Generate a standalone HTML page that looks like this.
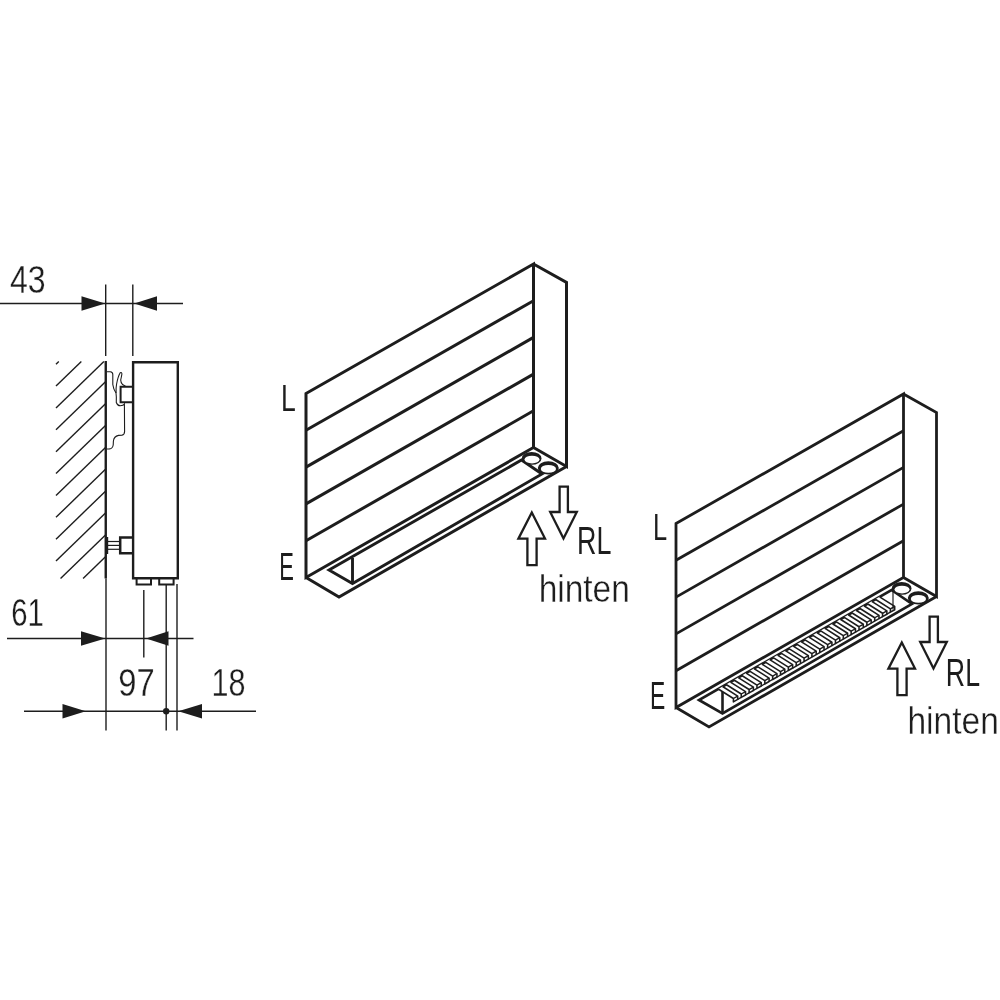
<!DOCTYPE html>
<html lang="de">
<head>
<meta charset="utf-8">
<title>Heizkörper Maßzeichnung</title>
<style>
html,body{margin:0;padding:0;background:#fff;}
body{width:1000px;height:1000px;overflow:hidden;}
svg{display:block;will-change:transform;filter:grayscale(1);}
svg text{font-family:"Liberation Sans",sans-serif;}
</style>
</head>
<body>
<svg width="1000" height="1000" viewBox="0 0 1000 1000" stroke="#1d1d1b" fill="none" stroke-linecap="butt" stroke-linejoin="miter">
<rect x="0" y="0" width="1000" height="1000" fill="#fff" stroke="none"/>
<g id="left">
<line x1="56.00" y1="364.20" x2="58.79" y2="361.50" stroke-width="1.4" />
<line x1="56.00" y1="386.07" x2="81.34" y2="361.50" stroke-width="1.4" />
<line x1="56.00" y1="407.94" x2="103.89" y2="361.50" stroke-width="1.4" />
<line x1="56.00" y1="429.81" x2="105.75" y2="381.57" stroke-width="1.4" />
<line x1="56.00" y1="451.68" x2="105.75" y2="403.44" stroke-width="1.4" />
<line x1="56.00" y1="473.55" x2="105.75" y2="425.31" stroke-width="1.4" />
<line x1="56.00" y1="495.42" x2="105.75" y2="447.18" stroke-width="1.4" />
<line x1="56.00" y1="517.29" x2="105.75" y2="469.05" stroke-width="1.4" />
<line x1="56.00" y1="539.16" x2="105.75" y2="490.92" stroke-width="1.4" />
<line x1="56.00" y1="561.03" x2="105.75" y2="512.79" stroke-width="1.4" />
<line x1="60.54" y1="578.50" x2="105.75" y2="534.66" stroke-width="1.4" />
<line x1="83.09" y1="578.50" x2="105.75" y2="556.53" stroke-width="1.4" />
<line x1="0.00" y1="303.50" x2="183.00" y2="303.50" stroke-width="1.4" />
<path d="M105.20,303.50 L81.50,296.30 L81.50,310.70 Z" fill="#1d1d1b" stroke="none"/>
<path d="M134.20,303.50 L157.00,296.30 L157.00,310.70 Z" fill="#1d1d1b" stroke="none"/>
<line x1="105.70" y1="284.50" x2="105.70" y2="356.00" stroke-width="1.4" />
<line x1="132.80" y1="284.50" x2="132.80" y2="356.00" stroke-width="1.4" />
<line x1="105.75" y1="361.00" x2="105.75" y2="578.50" stroke-width="2.4" />
<path d="M133.10,362.20 L177.80,362.20 L177.80,578.20 L133.10,578.20 Z" stroke-width="2.4" fill="none" />
<path d="M136.60,578.20 L136.60,584.40 L151.00,584.40 L151.00,578.20" stroke-width="2.0" fill="none" />
<path d="M159.20,578.20 L159.20,584.40 L173.60,584.40 L173.60,578.20" stroke-width="2.0" fill="none" />
<path d="M133.00,386.80 L120.60,386.80 L120.60,402.20 L133.00,402.20" stroke-width="2.0" fill="none" />
<path d="M107,371.7 L110.3,371.7 Q112.8,371.9 112.8,374.5 L112.8,384.5 Q113.2,388.5 116,393 Q116.6,397 116.3,402.5 Q117.5,405.8 120.2,405.8 Q123.5,405.6 124.4,404 L124.6,431.5 Q124.6,434.6 122,435.1 L118.5,435.4 Q114,436.5 113.4,441 L113.2,445 Q112.6,448.6 109.5,448.9 L107,449" stroke-width="1.1" fill="none"/>
<path d="M116.1,393 Q115.8,388 116.6,384 Q118,376.5 120.2,372.8 Q121.8,371.8 121.9,374 Q121.4,377 120.7,380 Q120.8,383 122.6,384.6 L125.5,386.2" stroke-width="1.1" fill="none"/>
<line x1="107.10" y1="537.00" x2="107.10" y2="554.00" stroke-width="2.2" />
<line x1="107.50" y1="541.50" x2="119.50" y2="541.50" stroke-width="1.2" />
<line x1="107.50" y1="545.40" x2="119.50" y2="545.40" stroke-width="1.2" />
<line x1="107.50" y1="549.30" x2="119.50" y2="549.30" stroke-width="1.2" />
<path d="M133.00,537.50 L120.20,537.50 L120.20,553.20 L133.00,553.20" stroke-width="2.5" fill="none" />
<line x1="106.00" y1="578.50" x2="106.00" y2="730.50" stroke-width="1.4" />
<line x1="143.80" y1="590.00" x2="143.80" y2="657.50" stroke-width="1.4" />
<line x1="166.20" y1="585.00" x2="166.20" y2="730.50" stroke-width="1.4" />
<line x1="177.00" y1="584.00" x2="177.00" y2="730.50" stroke-width="1.4" />
<line x1="7.00" y1="638.50" x2="193.50" y2="638.50" stroke-width="1.4" />
<path d="M105.30,638.50 L81.00,631.30 L81.00,645.70 Z" fill="#1d1d1b" stroke="none"/>
<path d="M146.00,638.50 L168.50,631.30 L168.50,645.70 Z" fill="#1d1d1b" stroke="none"/>
<line x1="24.00" y1="711.30" x2="256.00" y2="711.30" stroke-width="1.4" />
<path d="M85.80,711.30 L62.50,704.10 L62.50,718.50 Z" fill="#1d1d1b" stroke="none"/>
<path d="M178.30,711.30 L202.00,704.10 L202.00,718.50 Z" fill="#1d1d1b" stroke="none"/>
<circle cx="166.2" cy="711.3" r="3.2" fill="#1d1d1b" stroke="none"/>
</g>
<g transform="translate(0,0)">
<path d="M306.00,393.50 L533.50,264.00 L533.50,447.50 L306.00,577.50 Z" stroke-width="3.0" fill="none" />
<line x1="306.00" y1="430.30" x2="533.50" y2="300.70" stroke-width="3.0" />
<line x1="306.00" y1="467.10" x2="533.50" y2="337.40" stroke-width="3.0" />
<line x1="306.00" y1="503.90" x2="533.50" y2="374.10" stroke-width="3.0" />
<line x1="306.00" y1="540.70" x2="533.50" y2="410.80" stroke-width="3.0" />
<path d="M533.50,264.00 L566.50,282.50 L566.50,466.50 L533.50,447.50" stroke-width="3.0" fill="none" />
<path d="M306.00,577.50 L339.00,597.00 L566.50,466.50" stroke-width="3.0" fill="none" />
<path d="M329.00,570.00 L352.50,583.50 L542.00,474.00 L521.50,460.00 Z" stroke-width="2.9" fill="none" />
<line x1="352.50" y1="558.00" x2="352.50" y2="583.50" stroke-width="2.9" />
<ellipse cx="531.65" cy="458.4" rx="9.85" ry="6.4" stroke="none" fill="#1d1d1b"/>
<ellipse cx="532" cy="459.55" rx="7.5" ry="3.85" stroke="none" fill="#fff"/>
<ellipse cx="548.3" cy="467.9" rx="10.5" ry="6.6" stroke="none" fill="#1d1d1b"/>
<ellipse cx="548.4" cy="468.9" rx="7.6" ry="3.95" stroke="none" fill="#fff"/>
<path d="M559.60,486.60 L567.90,486.60 L567.90,512.00 L576.80,512.00 L563.50,538.50 L550.20,512.00 L559.60,512.00 Z" stroke-width="2.3" fill="none" />
<path d="M531.80,512.50 L545.00,538.60 L536.60,538.60 L536.60,565.10 L527.40,565.10 L527.40,538.60 L518.40,538.60 Z" stroke-width="2.3" fill="none" />
</g>
<g transform="translate(370,130)">
<path d="M306.00,393.50 L533.50,264.00 L533.50,447.50 L306.00,577.50 Z" stroke-width="2.8" fill="none" />
<line x1="306.00" y1="430.30" x2="533.50" y2="300.70" stroke-width="2.8" />
<line x1="306.00" y1="467.10" x2="533.50" y2="337.40" stroke-width="2.8" />
<line x1="306.00" y1="503.90" x2="533.50" y2="374.10" stroke-width="2.8" />
<line x1="306.00" y1="540.70" x2="533.50" y2="410.80" stroke-width="2.8" />
<path d="M533.50,264.00 L566.50,282.50 L566.50,466.50 L533.50,447.50" stroke-width="2.8" fill="none" />
<path d="M306.00,577.50 L339.00,597.00 L566.50,466.50" stroke-width="2.8" fill="none" />
<path d="M329.00,570.00 L352.50,583.50 L542.00,474.00 L521.50,460.00 Z" stroke-width="2.6" fill="none" />
<line x1="352.50" y1="558.00" x2="352.50" y2="583.50" stroke-width="2.6" />
<path d="M348.29,558.98 L352.59,556.52 L367.70,566.04 L367.70,569.44 L363.40,571.90 L363.40,568.50 Z" stroke-width="0" fill="#fff" stroke="none"/>
<path d="M348.29,558.98 L363.40,568.50 L363.40,571.90 L367.70,569.44 L367.70,566.04 L352.59,556.52" stroke-width="1.55" fill="none" stroke-linejoin="round"/>
<path d="M363.40,568.50 L367.70,566.04" stroke-width="1.395" fill="none" />
<path d="M367.70,569.44 L371.25,567.41" stroke-width="1.395" fill="none" />
<path d="M356.14,554.49 L360.44,552.04 L375.55,561.56 L375.55,564.96 L371.25,567.41 L371.25,564.01 Z" stroke-width="0" fill="#fff" stroke="none"/>
<path d="M356.14,554.49 L371.25,564.01 L371.25,567.41 L375.55,564.96 L375.55,561.56 L360.44,552.04" stroke-width="1.55" fill="none" stroke-linejoin="round"/>
<path d="M371.25,564.01 L375.55,561.56" stroke-width="1.395" fill="none" />
<path d="M375.55,564.96 L379.10,562.93" stroke-width="1.395" fill="none" />
<path d="M363.99,550.01 L368.29,547.55 L383.40,557.07 L383.40,560.47 L379.10,562.93 L379.10,559.53 Z" stroke-width="0" fill="#fff" stroke="none"/>
<path d="M363.99,550.01 L379.10,559.53 L379.10,562.93 L383.40,560.47 L383.40,557.07 L368.29,547.55" stroke-width="1.55" fill="none" stroke-linejoin="round"/>
<path d="M379.10,559.53 L383.40,557.07" stroke-width="1.395" fill="none" />
<path d="M383.40,560.47 L386.95,558.44" stroke-width="1.395" fill="none" />
<path d="M371.84,545.52 L376.14,543.07 L391.25,552.59 L391.25,555.99 L386.95,558.44 L386.95,555.04 Z" stroke-width="0" fill="#fff" stroke="none"/>
<path d="M371.84,545.52 L386.95,555.04 L386.95,558.44 L391.25,555.99 L391.25,552.59 L376.14,543.07" stroke-width="1.55" fill="none" stroke-linejoin="round"/>
<path d="M386.95,555.04 L391.25,552.59" stroke-width="1.395" fill="none" />
<path d="M391.25,555.99 L394.80,553.96" stroke-width="1.395" fill="none" />
<path d="M379.69,541.04 L383.99,538.58 L399.10,548.10 L399.10,551.50 L394.80,553.96 L394.80,550.56 Z" stroke-width="0" fill="#fff" stroke="none"/>
<path d="M379.69,541.04 L394.80,550.56 L394.80,553.96 L399.10,551.50 L399.10,548.10 L383.99,538.58" stroke-width="1.55" fill="none" stroke-linejoin="round"/>
<path d="M394.80,550.56 L399.10,548.10" stroke-width="1.395" fill="none" />
<path d="M399.10,551.50 L402.65,549.47" stroke-width="1.395" fill="none" />
<path d="M387.54,536.55 L391.84,534.09 L406.95,543.62 L406.95,547.02 L402.65,549.47 L402.65,546.07 Z" stroke-width="0" fill="#fff" stroke="none"/>
<path d="M387.54,536.55 L402.65,546.07 L402.65,549.47 L406.95,547.02 L406.95,543.62 L391.84,534.09" stroke-width="1.55" fill="none" stroke-linejoin="round"/>
<path d="M402.65,546.07 L406.95,543.62" stroke-width="1.395" fill="none" />
<path d="M406.95,547.02 L410.50,544.99" stroke-width="1.395" fill="none" />
<path d="M395.39,532.07 L399.69,529.61 L414.80,539.13 L414.80,542.53 L410.50,544.99 L410.50,541.59 Z" stroke-width="0" fill="#fff" stroke="none"/>
<path d="M395.39,532.07 L410.50,541.59 L410.50,544.99 L414.80,542.53 L414.80,539.13 L399.69,529.61" stroke-width="1.55" fill="none" stroke-linejoin="round"/>
<path d="M410.50,541.59 L414.80,539.13" stroke-width="1.395" fill="none" />
<path d="M414.80,542.53 L418.35,540.50" stroke-width="1.395" fill="none" />
<path d="M403.24,527.58 L407.54,525.12 L422.65,534.64 L422.65,538.04 L418.35,540.50 L418.35,537.10 Z" stroke-width="0" fill="#fff" stroke="none"/>
<path d="M403.24,527.58 L418.35,537.10 L418.35,540.50 L422.65,538.04 L422.65,534.64 L407.54,525.12" stroke-width="1.55" fill="none" stroke-linejoin="round"/>
<path d="M418.35,537.10 L422.65,534.64" stroke-width="1.395" fill="none" />
<path d="M422.65,538.04 L426.20,536.02" stroke-width="1.395" fill="none" />
<path d="M411.09,523.10 L415.39,520.64 L430.50,530.16 L430.50,533.56 L426.20,536.02 L426.20,532.62 Z" stroke-width="0" fill="#fff" stroke="none"/>
<path d="M411.09,523.10 L426.20,532.62 L426.20,536.02 L430.50,533.56 L430.50,530.16 L415.39,520.64" stroke-width="1.55" fill="none" stroke-linejoin="round"/>
<path d="M426.20,532.62 L430.50,530.16" stroke-width="1.395" fill="none" />
<path d="M430.50,533.56 L434.05,531.53" stroke-width="1.395" fill="none" />
<path d="M418.94,518.61 L423.24,516.15 L438.35,525.67 L438.35,529.07 L434.05,531.53 L434.05,528.13 Z" stroke-width="0" fill="#fff" stroke="none"/>
<path d="M418.94,518.61 L434.05,528.13 L434.05,531.53 L438.35,529.07 L438.35,525.67 L423.24,516.15" stroke-width="1.55" fill="none" stroke-linejoin="round"/>
<path d="M434.05,528.13 L438.35,525.67" stroke-width="1.395" fill="none" />
<path d="M438.35,529.07 L441.90,527.05" stroke-width="1.395" fill="none" />
<path d="M426.79,514.12 L431.09,511.67 L446.20,521.19 L446.20,524.59 L441.90,527.05 L441.90,523.65 Z" stroke-width="0" fill="#fff" stroke="none"/>
<path d="M426.79,514.12 L441.90,523.65 L441.90,527.05 L446.20,524.59 L446.20,521.19 L431.09,511.67" stroke-width="1.55" fill="none" stroke-linejoin="round"/>
<path d="M441.90,523.65 L446.20,521.19" stroke-width="1.395" fill="none" />
<path d="M446.20,524.59 L449.75,522.56" stroke-width="1.395" fill="none" />
<path d="M434.64,509.64 L438.94,507.18 L454.05,516.70 L454.05,520.10 L449.75,522.56 L449.75,519.16 Z" stroke-width="0" fill="#fff" stroke="none"/>
<path d="M434.64,509.64 L449.75,519.16 L449.75,522.56 L454.05,520.10 L454.05,516.70 L438.94,507.18" stroke-width="1.55" fill="none" stroke-linejoin="round"/>
<path d="M449.75,519.16 L454.05,516.70" stroke-width="1.395" fill="none" />
<path d="M454.05,520.10 L457.60,518.07" stroke-width="1.395" fill="none" />
<path d="M442.49,505.15 L446.79,502.70 L461.90,512.22 L461.90,515.62 L457.60,518.07 L457.60,514.67 Z" stroke-width="0" fill="#fff" stroke="none"/>
<path d="M442.49,505.15 L457.60,514.67 L457.60,518.07 L461.90,515.62 L461.90,512.22 L446.79,502.70" stroke-width="1.55" fill="none" stroke-linejoin="round"/>
<path d="M457.60,514.67 L461.90,512.22" stroke-width="1.395" fill="none" />
<path d="M461.90,515.62 L465.45,513.59" stroke-width="1.395" fill="none" />
<path d="M450.34,500.67 L454.64,498.21 L469.75,507.73 L469.75,511.13 L465.45,513.59 L465.45,510.19 Z" stroke-width="0" fill="#fff" stroke="none"/>
<path d="M450.34,500.67 L465.45,510.19 L465.45,513.59 L469.75,511.13 L469.75,507.73 L454.64,498.21" stroke-width="1.55" fill="none" stroke-linejoin="round"/>
<path d="M465.45,510.19 L469.75,507.73" stroke-width="1.395" fill="none" />
<path d="M469.75,511.13 L473.30,509.10" stroke-width="1.395" fill="none" />
<path d="M458.19,496.18 L462.49,493.73 L477.60,503.25 L477.60,506.65 L473.30,509.10 L473.30,505.70 Z" stroke-width="0" fill="#fff" stroke="none"/>
<path d="M458.19,496.18 L473.30,505.70 L473.30,509.10 L477.60,506.65 L477.60,503.25 L462.49,493.73" stroke-width="1.55" fill="none" stroke-linejoin="round"/>
<path d="M473.30,505.70 L477.60,503.25" stroke-width="1.395" fill="none" />
<path d="M477.60,506.65 L481.15,504.62" stroke-width="1.395" fill="none" />
<path d="M466.04,491.70 L470.34,489.24 L485.45,498.76 L485.45,502.16 L481.15,504.62 L481.15,501.22 Z" stroke-width="0" fill="#fff" stroke="none"/>
<path d="M466.04,491.70 L481.15,501.22 L481.15,504.62 L485.45,502.16 L485.45,498.76 L470.34,489.24" stroke-width="1.55" fill="none" stroke-linejoin="round"/>
<path d="M481.15,501.22 L485.45,498.76" stroke-width="1.395" fill="none" />
<path d="M485.45,502.16 L489.00,500.13" stroke-width="1.395" fill="none" />
<path d="M473.89,487.21 L478.19,484.75 L493.30,494.28 L493.30,497.68 L489.00,500.13 L489.00,496.73 Z" stroke-width="0" fill="#fff" stroke="none"/>
<path d="M473.89,487.21 L489.00,496.73 L489.00,500.13 L493.30,497.68 L493.30,494.28 L478.19,484.75" stroke-width="1.55" fill="none" stroke-linejoin="round"/>
<path d="M489.00,496.73 L493.30,494.28" stroke-width="1.395" fill="none" />
<path d="M493.30,497.68 L496.85,495.65" stroke-width="1.395" fill="none" />
<path d="M481.74,482.73 L486.04,480.27 L501.15,489.79 L501.15,493.19 L496.85,495.65 L496.85,492.25 Z" stroke-width="0" fill="#fff" stroke="none"/>
<path d="M481.74,482.73 L496.85,492.25 L496.85,495.65 L501.15,493.19 L501.15,489.79 L486.04,480.27" stroke-width="1.55" fill="none" stroke-linejoin="round"/>
<path d="M496.85,492.25 L501.15,489.79" stroke-width="1.395" fill="none" />
<path d="M501.15,493.19 L504.70,491.16" stroke-width="1.395" fill="none" />
<path d="M489.59,478.24 L493.89,475.78 L509.00,485.30 L509.00,488.70 L504.70,491.16 L504.70,487.76 Z" stroke-width="0" fill="#fff" stroke="none"/>
<path d="M489.59,478.24 L504.70,487.76 L504.70,491.16 L509.00,488.70 L509.00,485.30 L493.89,475.78" stroke-width="1.55" fill="none" stroke-linejoin="round"/>
<path d="M504.70,487.76 L509.00,485.30" stroke-width="1.395" fill="none" />
<path d="M509.00,488.70 L512.55,486.68" stroke-width="1.395" fill="none" />
<path d="M497.44,473.75 L501.74,471.30 L516.85,480.82 L516.85,484.22 L512.55,486.68 L512.55,483.28 Z" stroke-width="0" fill="#fff" stroke="none"/>
<path d="M497.44,473.75 L512.55,483.28 L512.55,486.68 L516.85,484.22 L516.85,480.82 L501.74,471.30" stroke-width="1.55" fill="none" stroke-linejoin="round"/>
<path d="M512.55,483.28 L516.85,480.82" stroke-width="1.395" fill="none" />
<path d="M516.85,484.22 L520.40,482.19" stroke-width="1.395" fill="none" />
<path d="M505.29,469.27 L509.59,466.81 L524.70,476.33 L524.70,479.73 L520.40,482.19 L520.40,478.79 Z" stroke-width="0" fill="#fff" stroke="none"/>
<path d="M505.29,469.27 L520.40,478.79 L520.40,482.19 L524.70,479.73 L524.70,476.33 L509.59,466.81" stroke-width="1.55" fill="none" stroke-linejoin="round"/>
<path d="M520.40,478.79 L524.70,476.33" stroke-width="1.395" fill="none" />
<line x1="523.00" y1="459.00" x2="523.00" y2="479.50" stroke-width="1.2" />
<ellipse cx="531.65" cy="458.4" rx="9.85" ry="6.4" stroke="none" fill="#1d1d1b"/>
<ellipse cx="532" cy="459.55" rx="7.5" ry="3.85" stroke="none" fill="#fff"/>
<ellipse cx="548.3" cy="467.9" rx="10.5" ry="6.6" stroke="none" fill="#1d1d1b"/>
<ellipse cx="548.4" cy="468.9" rx="7.6" ry="3.95" stroke="none" fill="#fff"/>
<path d="M559.60,486.60 L567.90,486.60 L567.90,512.00 L576.80,512.00 L563.50,538.50 L550.20,512.00 L559.60,512.00 Z" stroke-width="2.3" fill="none" />
<path d="M531.80,512.50 L545.00,538.60 L536.60,538.60 L536.60,565.10 L527.40,565.10 L527.40,538.60 L518.40,538.60 Z" stroke-width="2.3" fill="none" />
</g>
<text id="t_43" transform="translate(9.88,293.25) scale(0.8264,1)" font-size="38.79" stroke="#fff" stroke-width="0.3" fill="#1d1d1b">43</text>
<text id="t_61" transform="translate(11.13,625.75) scale(0.7563,1)" font-size="38.77" stroke="#fff" stroke-width="0.3" fill="#1d1d1b">61</text>
<text id="t_97" transform="translate(118.25,696.25) scale(0.8458,1)" font-size="38.77" stroke="#fff" stroke-width="0.3" fill="#1d1d1b">97</text>
<text id="t_18" transform="translate(211.50,696.25) scale(0.7878,1)" font-size="38.77" stroke="#fff" stroke-width="0.3" fill="#1d1d1b">18</text>
<text id="t_L1" transform="translate(281.12,411.00) scale(0.7085,1)" font-size="37.49" stroke="none" stroke-width="0.0" fill="#1d1d1b">L</text>
<text id="t_E1" transform="translate(279.25,579.50) scale(0.5696,1)" font-size="38.52" stroke="none" stroke-width="0.0" fill="#1d1d1b">E</text>
<text id="t_RL1" transform="translate(577.05,553.80) scale(0.7082,1)" font-size="37.94" stroke="none" stroke-width="0.0" fill="#1d1d1b">RL</text>
<text id="t_h1" transform="translate(538.63,601.60) scale(0.8575,1)" font-size="39.06" stroke="#fff" stroke-width="0.4" fill="#1d1d1b">hinten</text>
<text id="t_L2" transform="translate(652.88,540.00) scale(0.6784,1)" font-size="37.49" stroke="none" stroke-width="0.0" fill="#1d1d1b">L</text>
<text id="t_E2" transform="translate(650.00,708.75) scale(0.5824,1)" font-size="39.27" stroke="none" stroke-width="0.0" fill="#1d1d1b">E</text>
<text id="t_RL2" transform="translate(945.87,686.45) scale(0.7034,1)" font-size="38.01" stroke="none" stroke-width="0.0" fill="#1d1d1b">RL</text>
<text id="t_h2" transform="translate(907.38,734.10) scale(0.8677,1)" font-size="38.70" stroke="#fff" stroke-width="0.4" fill="#1d1d1b">hinten</text>
</svg>
</body>
</html>
